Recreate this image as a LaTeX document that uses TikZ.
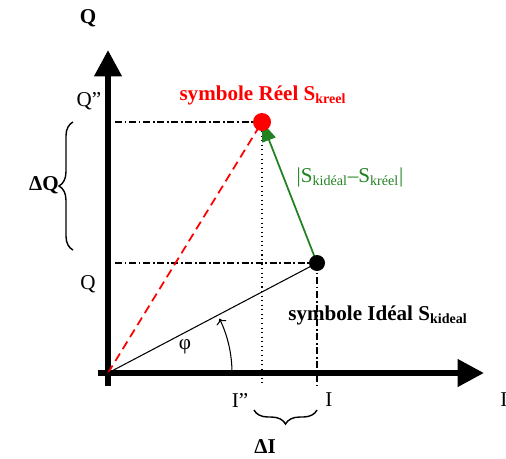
\documentclass[tikz,border=0pt]{standalone}
\usepackage{fontspec}
\setmainfont{Liberation Serif}
\usetikzlibrary{arrows.meta,decorations.pathreplacing}

\definecolor{vert}{RGB}{34,130,34}

\tikzset{
  axe/.style={line width=3.4pt, -{Triangle[length=15pt,width=15pt]}},
  repere/.style={line width=0.6pt, dash pattern=on 4pt off 1.5pt on 1pt off 1.5pt},
  accolade/.style={decorate, decoration={brace, amplitude=8pt}, line width=0.8pt},
  lbl/.style={font=\fontsize{12}{14}\selectfont},
  titre/.style={font=\bfseries\fontsize{12}{14}\selectfont},
}

\begin{document}
\begin{tikzpicture}[x=0.02cm,y=0.02cm]
\useasboundingbox (0,0) rectangle (506,458);

% points
\coordinate (O) at (108,85);
\coordinate (R) at (262,336);
\coordinate (D) at (317,195);
\coordinate (Ybas) at (108,72);
\coordinate (Yhaut) at (108,408);
\coordinate (Xgauche) at (98,85);
\coordinate (Xdroite) at (484,85);
\coordinate (Rg) at (115,336);
\coordinate (Dg) at (115,195);
\coordinate (Rb) at (262,72);
\coordinate (Db) at (317,72);

% axes
\draw[axe] (Ybas) -- (Yhaut);
\draw[axe] (Xgauche) -- (Xdroite);
\node[titre] (axeQ) at (88,440) {Q};
\node[lbl, anchor=west, inner sep=0pt] (axeI) at (500,58) {I};

% projections
\draw[repere] (Rg) -- (R);
\draw[repere] (Dg) -- (D);
\draw[line width=0.6pt, dotted] (R) -- (Rb);
\draw[repere] (D) -- (Db);

\node[lbl] (q2) at (89,357) {Q''};
\node[lbl] (q1) at (88,174) {Q};
\node[lbl] (i2) at (240,58) {I''};
\node[lbl] (i1) at (329,58) {I};

% vecteurs
\draw[red, line width=1pt, dash pattern=on 5pt off 3pt] (O) -- (R);
\draw[line width=0.6pt] (O) -- (D);
\draw[vert, line width=1pt, -{Triangle[length=11pt,width=8pt]}] (D) -- (R);
\fill[red] (R) circle (9);
\fill[black] (D) circle (8);

% angle
\draw[line width=0.6pt, ->] (O) ++(124,0) arc[start angle=0, end angle=26, radius=124];
\node[lbl] (phi) at (185,111) {φ};

% accolades
\draw[accolade] (73,208) -- (73,336);
\node[titre] (dQ) at (44,273) {ΔQ};
\draw[accolade] (317,48) -- (254,48);
\node[titre] (dI) at (265,11) {ΔI};

% etiquettes
\node[titre, red] (lR) at (263,363) {symbole Réel S\textsubscript{kreel}};
\node[lbl, vert] (lV) at (350,281) {|S\textsubscript{kidéal}–S\textsubscript{kréel}|};
\node[titre] (lD) at (378,143) {symbole Idéal S\textsubscript{kideal}};

\end{tikzpicture}
\end{document}
